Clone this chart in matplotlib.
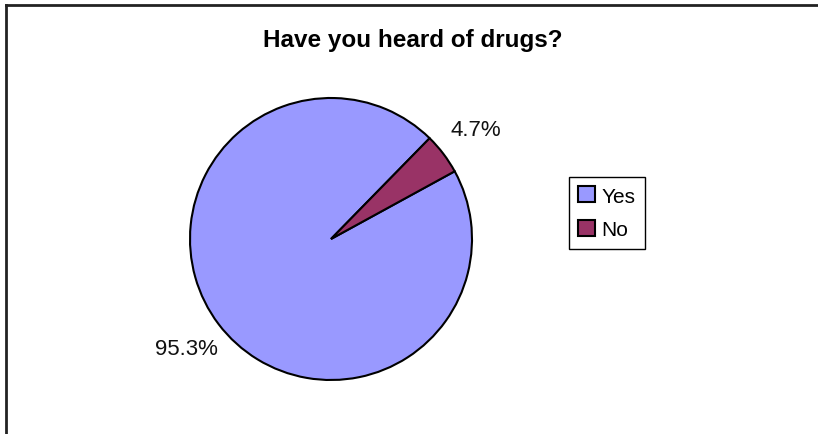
import matplotlib
matplotlib.use("Agg")
from matplotlib import pyplot as plt
from matplotlib.patches import Patch
from matplotlib.lines import Line2D

# survey answers
labels = ["Yes", "No"]
shares = [95.3, 4.7]
colors = ["#9999FF", "#993366"]

plt.rcParams["font.family"] = ["Liberation Sans", "DejaVu Sans"]

W, H = 818, 435
fig = plt.figure(figsize=(W / 100, H / 100), dpi=100)

# pie centred at (331, 240) px, radius 141 px
cx, cy, r = 331, 240, 141
ax = fig.add_axes([(cx - r) / W, (H - cy - r) / H, 2 * r / W, 2 * r / H])
wedges, texts, autotexts = ax.pie(
    shares, colors=colors, startangle=28.7, counterclock=False,
    autopct="%.1f%%", pctdistance=1.29, radius=1,
    wedgeprops=dict(edgecolor="black", linewidth=1.5),
    textprops=dict(fontsize=16, color="#111111"))
ax.set_xlim(-1, 1)
ax.set_ylim(-1, 1)
ax.set_aspect("equal")
ax.axis("off")

fig.text(413 / W, 1 - 40 / H, "Have you heard of drugs?", ha="center", va="center",
         fontsize=17.5, fontweight="bold")

handles = [Patch(facecolor=c, edgecolor="black", linewidth=1.5) for c in colors]
leg = fig.legend(handles, labels, loc="upper left", bbox_to_anchor=(569 / W, 1 - 178 / H),
                 borderaxespad=0, fancybox=False, edgecolor="black", framealpha=1,
                 fontsize=15, handlelength=0.8, handleheight=0.8, handletextpad=0.3,
                 labelspacing=0.7, borderpad=0.45)
leg.get_frame().set_linewidth(1.0)

# chart border, only the left and top sides show
fig.add_artist(Line2D([6 / W, 6 / W], [0, 1 - 6 / H], transform=fig.transFigure,
                      color="#222222", linewidth=2))
fig.add_artist(Line2D([6 / W, 1], [1 - 6 / H, 1 - 6 / H], transform=fig.transFigure,
                      color="#222222", linewidth=2))

fig.savefig("out.png", dpi=100)
